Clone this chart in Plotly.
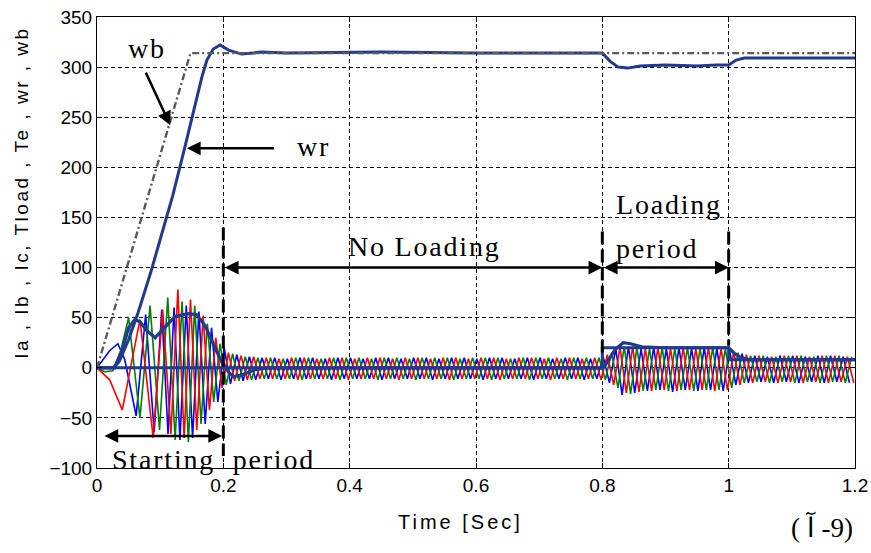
import plotly.graph_objects as go

# ---------------- data ----------------
# speeds (rad/s)
wb_t = [0.0, 0.148, 1.2]
wb_v = [0, 314, 314]

wr_t = [0.0, 0.025, 0.035, 0.05, 0.065, 0.085, 0.1, 0.12, 0.139, 0.155, 0.166, 0.174, 0.184,
        0.195, 0.208, 0.229, 0.261, 0.3, 0.45, 0.6, 0.8, 0.812, 0.825, 0.84, 0.86, 0.9, 0.95,
        0.98, 1.0, 1.012, 1.025, 1.2]
wr_v = [0, 0, 6, 28, 55, 95, 128, 172, 220, 262, 290, 307, 318,
        322, 317, 313, 315, 314, 315, 314, 314, 306, 300, 299, 301, 302, 301,
        302, 302, 307, 309, 309]

# torques
te_t = [0.0, 0.028, 0.04, 0.05, 0.06, 0.068, 0.079, 0.092, 0.107, 0.123, 0.144, 0.158, 0.171,
        0.184, 0.197, 0.208, 0.216, 0.23, 0.25, 0.27, 0.8, 0.805, 0.82, 0.833, 0.845, 0.862,
        0.9, 1.0, 1.008, 1.02, 1.035, 1.2]
te_v = [0, 0, 18, 40, 48, 46, 37, 30, 40, 51, 54, 53, 42,
        24, 6, -4, -9, -7, -2, 0, 0, 3, 18, 25, 24, 21,
        20, 20, 15, 10, 8, 8]

tload_t = [0.0, 0.8, 0.8, 1.0, 1.0, 1.2]
tload_v = [0, 0, 20, 20, 8, 8]

# phase currents: starting transient (turning points)
ia_start_t = [0.0, 0.02, 0.033, 0.044, 0.062, 0.077, 0.0905, 0.1025, 0.1125, 0.122, 0.1313,
              0.1413, 0.1513, 0.1613, 0.1713, 0.1813, 0.1913, 0.2013, 0.2113]
ia_start_v = [0, 17, 24, 8, -48, 53, -64, 58, -66, 60, -72,
              62, -70, 56, -56, 40, -34, 20, -16]

ib_start_t = [0.0, 0.012, 0.025, 0.038, 0.05, 0.068, 0.084, 0.099, 0.112, 0.1237, 0.1347,
              0.1447, 0.1547, 0.1647, 0.1747, 0.1847, 0.1947, 0.2047]
ib_start_v = [0, -4, -3, 18, 50, -50, 62, -62, 70, -72, 66,
              -74, 62, -56, 44, -34, 24, -17]

ic_start_t = [0.0, 0.02, 0.04, 0.068, 0.089, 0.104, 0.117, 0.128, 0.138, 0.148, 0.158,
              0.168, 0.178, 0.188, 0.198, 0.208]
ic_start_v = [0, -12, -42, 48, -70, 58, -66, 78, -70, 68, -62,
              52, -42, 30, -20, 15]

# phase currents: running period (turning points)
ia_run_t = [0.2213, 0.2313, 0.2413, 0.2513, 0.2613, 0.2713, 0.2813, 0.2913,
            0.3013, 0.3113, 0.3213, 0.3313, 0.3413, 0.3513, 0.3613, 0.3713, 0.3813, 0.3913,
            0.4013, 0.4113, 0.4213, 0.4313, 0.4413, 0.4513, 0.4613, 0.4713, 0.4813, 0.4913,
            0.5013, 0.5113, 0.5213, 0.5313, 0.5413, 0.5513, 0.5613, 0.5713, 0.5813, 0.5913,
            0.6013, 0.6113, 0.6213, 0.6313, 0.6413, 0.6513, 0.6613, 0.6713, 0.6813, 0.6913,
            0.7013, 0.7113, 0.7213, 0.7313, 0.7413, 0.7513, 0.7613, 0.7713, 0.7813, 0.7913,
            0.8013, 0.8113, 0.8213, 0.8313, 0.8413, 0.8513, 0.8613, 0.8713, 0.8813, 0.8913,
            0.9013, 0.9113, 0.9213, 0.9313, 0.9413, 0.9513, 0.9613, 0.9713, 0.9813, 0.9913,
            1.0013, 1.0113, 1.0213, 1.0313, 1.0413, 1.0513, 1.0613, 1.0713, 1.0813, 1.0913,
            1.1013, 1.1113, 1.1213, 1.1313, 1.1413, 1.1513, 1.1613, 1.1713, 1.1813, 1.1913]
ia_run_v = [13, -13, 11, -12, 10, -11, 10, -12,
            9, -11, 10, -11, 10, -11, 9, -12, 10, -11,
            10, -11, 9, -11, 10, -12, 10, -11, 9, -11,
            10, -11, 10, -12, 9, -11, 10, -11, 10, -11,
            9, -12, 10, -11, 10, -11, 9, -11, 10, -12,
            10, -11, 9, -11, 10, -11, 10, -12, 9, -11,
            11, -15, 19, -27, 21, -25, 19, -23, 20, -22,
            19, -24, 20, -22, 19, -23, 20, -22, 19, -23,
            18, -17, 14, -15, 12, -14, 11, -15, 12, -14,
            12, -15, 11, -14, 12, -15, 12, -14, 11, -15]

ib_run_t = [0.2147, 0.2247, 0.2347, 0.2447, 0.2547, 0.2647, 0.2747, 0.2847, 0.2947,
            0.3047, 0.3147, 0.3247, 0.3347, 0.3447, 0.3547, 0.3647, 0.3747, 0.3847, 0.3947,
            0.4047, 0.4147, 0.4247, 0.4347, 0.4447, 0.4547, 0.4647, 0.4747, 0.4847, 0.4947,
            0.5047, 0.5147, 0.5247, 0.5347, 0.5447, 0.5547, 0.5647, 0.5747, 0.5847, 0.5947,
            0.6047, 0.6147, 0.6247, 0.6347, 0.6447, 0.6547, 0.6647, 0.6747, 0.6847, 0.6947,
            0.7047, 0.7147, 0.7247, 0.7347, 0.7447, 0.7547, 0.7647, 0.7747, 0.7847, 0.7947,
            0.8047, 0.8147, 0.8247, 0.8347, 0.8447, 0.8547, 0.8647, 0.8747, 0.8847, 0.8947,
            0.9047, 0.9147, 0.9247, 0.9347, 0.9447, 0.9547, 0.9647, 0.9747, 0.9847, 0.9947,
            1.0047, 1.0147, 1.0247, 1.0347, 1.0447, 1.0547, 1.0647, 1.0747, 1.0847, 1.0947,
            1.1047, 1.1147, 1.1247, 1.1347, 1.1447, 1.1547, 1.1647, 1.1747, 1.1847, 1.1947]
ib_run_v = [14, -13, 11, -12, 10, -11, 10, -11, 9,
            -11, 10, -12, 10, -11, 9, -11, 10, -12, 10,
            -11, 10, -11, 9, -12, 10, -11, 10, -11, 9,
            -12, 10, -11, 10, -11, 10, -12, 9, -11, 10,
            -11, 10, -12, 10, -11, 9, -11, 10, -12, 10,
            -11, 10, -11, 9, -12, 10, -11, 10, -11, 10,
            -12, 15, -20, 21, -26, 20, -23, 19, -22, 20,
            -23, 19, -22, 20, -23, 19, -22, 20, -22, 19,
            -20, 15, -15, 12, -14, 12, -15, 11, -14, 12,
            -15, 12, -14, 11, -15, 12, -14, 12, -15, 11]

ic_run_t = [0.218, 0.228, 0.238, 0.248, 0.258, 0.268, 0.278, 0.288, 0.298,
            0.308, 0.318, 0.328, 0.338, 0.348, 0.358, 0.368, 0.378, 0.388, 0.398,
            0.408, 0.418, 0.428, 0.438, 0.448, 0.458, 0.468, 0.478, 0.488, 0.498,
            0.508, 0.518, 0.528, 0.538, 0.548, 0.558, 0.568, 0.578, 0.588, 0.598,
            0.608, 0.618, 0.628, 0.638, 0.648, 0.658, 0.668, 0.678, 0.688, 0.698,
            0.708, 0.718, 0.728, 0.738, 0.748, 0.758, 0.768, 0.778, 0.788, 0.798,
            0.808, 0.818, 0.828, 0.838, 0.848, 0.858, 0.868, 0.878, 0.888, 0.898,
            0.908, 0.918, 0.928, 0.938, 0.948, 0.958, 0.968, 0.978, 0.988, 0.998,
            1.008, 1.018, 1.028, 1.038, 1.048, 1.058, 1.068, 1.078, 1.088, 1.098,
            1.108, 1.118, 1.128, 1.138, 1.148, 1.158, 1.168, 1.178, 1.188, 1.198]
ic_run_v = [-13, 12, -12, 11, -11, 10, -11, 9, -11,
            10, -12, 10, -11, 9, -11, 10, -11, 10, -12,
            9, -11, 10, -11, 10, -11, 9, -12, 10, -11,
            10, -11, 9, -11, 10, -12, 10, -11, 9, -11,
            10, -11, 10, -12, 9, -11, 10, -11, 10, -11,
            9, -12, 10, -11, 10, -11, 9, -11, 10, -12,
            13, -17, 20, -25, 21, -24, 19, -23, 20, -22,
            19, -23, 20, -22, 19, -22, 20, -23, 19, -22,
            16, -17, 13, -15, 12, -14, 11, -15, 12, -14,
            12, -15, 11, -14, 12, -15, 12, -14, 11, -15]

# period markers (time, top, bottom of the thick dashed lines)
marker_t = [0.2, 0.8, 1.0]
marker_top = [140, 136, 136]
marker_bottom = [-88, 12, 22]

x_ticks = [0, 0.2, 0.4, 0.6, 0.8, 1.0, 1.2]
x_tick_text = ["0", "0.2", "0.4", "0.6", "0.8", "1", "1.2"]
y_ticks = [-100, -50, 0, 50, 100, 150, 200, 250, 300, 350]

# ---------------- figure ----------------
NAVY = "#1f3a8f"
fig = go.Figure()

def line(x, y, color, width, dash="solid"):
    fig.add_trace(go.Scatter(x=x, y=y, mode="lines", hoverinfo="skip",
                             line=dict(color=color, width=width, dash=dash)))

line(ia_start_t + ia_run_t, ia_start_v + ia_run_v, "#0000ff", 1.6)
line(ib_start_t + ib_run_t, ib_start_v + ib_run_v, "#008000", 1.6)
line(ic_start_t + ic_run_t, ic_start_v + ic_run_v, "#ff0000", 1.6)
line(tload_t, tload_v, NAVY, 3)
line(te_t, te_v, NAVY, 3.2)
line(wr_t, wr_v, NAVY, 3)
line(wb_t, wb_v, "#5a5a5a", 2.4, "7px,3px,2px,3px")

for t, top, bot in zip(marker_t, marker_top, marker_bottom):
    line([t, t], [top, bot], "black", 3, "13px,5px")

ann = []
SERIF = "Liberation Serif, Times New Roman, serif"
SANS = "Liberation Sans, Arial, sans-serif"

def arrow(x, y, ax, ay, both=False):
    ann.append(dict(x=x, y=y, ax=ax, ay=ay, xref="x", yref="y", axref="x", ayref="y",
                    text="", showarrow=True, arrowhead=2, arrowsize=1.1, arrowwidth=2.5,
                    arrowcolor="black", standoff=0, startstandoff=0,
                    arrowside="end+start" if both else "end"))

def text(x, y, s, size=28, xanchor="center", ref="x", font=SERIF, angle=0, spacing=1.8):
    ann.append(dict(x=x, y=y, xref=ref if ref == "x" else "paper",
                    yref="y" if ref == "x" else "paper",
                    text='<span style="letter-spacing:%.1fpx">%s</span>' % (spacing, s),
                    showarrow=False, xanchor=xanchor, yanchor="middle",
                    textangle=angle, font=dict(family=font, size=size, color="black")))

# period arrows
arrow(0.198, -68, 0.0095, -68, both=True)
arrow(0.8, 100, 0.2, 100, both=True)
arrow(1.0, 100, 0.8, 100, both=True)
# label arrows
arrow(0.1159, 242, 0.0762, 296)
arrow(0.1423, 219, 0.2825, 219)

text(0.0786, 319, "wb")
text(0.343, 221, "wr")
text(0.519, 121, "No Loading")
text(0.818, 163, "Loading", xanchor="left")
text(0.818, 119, "period", xanchor="left")
text(0.0206, -92, "Starting  period", xanchor="left")

text(-0.099, 0.61, "Ia , Ib , Ic, Tload , Te , wr , wb", size=19, ref="paper", font=SANS,
     angle=-90, spacing=2.5)
text(0.479, -0.12, "Time [Sec]", size=20, ref="paper", font=SANS, spacing=3.0)
text(0.9565, -0.131, "( \u0622 \u200e-9)", size=27, ref="paper", font=SERIF, spacing=0.5)

axis_common = dict(showgrid=True, gridcolor="black", gridwidth=1, griddash="4px,3px",
                   showline=True, linecolor="black", linewidth=1, mirror="ticks",
                   ticks="inside", ticklen=5, tickcolor="black", zeroline=False,
                   automargin=False,
                   tickfont=dict(family=SANS, size=19, color="black"))

fig.update_layout(
    width=871, height=553,
    margin=dict(l=97, r=16, t=17, b=85, autoexpand=False),
    paper_bgcolor="white", plot_bgcolor="white",
    showlegend=False,
    xaxis=dict(range=[0, 1.2], tickvals=x_ticks, ticktext=x_tick_text, **axis_common),
    yaxis=dict(range=[-100, 350], tickvals=y_ticks, **axis_common),
    annotations=ann,
)

fig.write_html("out.html", config={"displayModeBar": False},
               post_script="document.body.style.margin='0px';document.body.style.overflow='hidden';")
